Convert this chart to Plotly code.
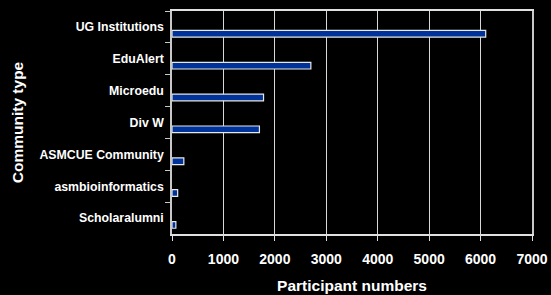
import plotly.graph_objects as go

categories = ["UG Institutions", "EduAlert", "Microedu", "Div W",
              "ASMCUE Community", "asmbioinformatics", "Scholaralumni"]
participants = [6100, 2700, 1780, 1700, 230, 110, 75]
x_ticks = [0, 1000, 2000, 3000, 4000, 5000, 6000, 7000]

FONT = "Liberation Sans, Arial, sans-serif"

fig = go.Figure()
fig.add_trace(go.Bar(
    y=categories, x=participants, orientation="h",
    width=0.21, offset=0.11,
    marker=dict(color="#003399", line=dict(color="#e8e8e8", width=1.2)),
    showlegend=False, hoverinfo="skip",
))

fig.update_layout(
    width=551, height=295,
    margin=dict(l=172, r=19, t=11, b=61),
    paper_bgcolor="black", plot_bgcolor="black",
    font=dict(family=FONT, color="white"),
)
fig.update_xaxes(
    range=[0, 7000], tickvals=x_ticks, ticktext=[str(v) for v in x_ticks],
    showgrid=True, gridcolor="#d8d8d8", gridwidth=1,
    showline=True, linecolor="#e0e0e0", linewidth=1.5, mirror=True,
    ticks="outside", ticklen=5, tickcolor="#e0e0e0", ticklabelstandoff=6,
    tickfont=dict(size=14, family=FONT, color="white", weight="bold"),
    title=dict(text="<b>Participant numbers</b>", font=dict(size=15.5, color="white"), standoff=15),
    zeroline=False, automargin=False,
)
fig.update_yaxes(
    type="category", autorange="reversed",
    showgrid=False,
    showline=True, linecolor="#c8c8c8", linewidth=1.5, mirror=True,
    ticks="outside", ticklen=5, tickcolor="#c8c8c8", tickson="boundaries",
    ticklabelstandoff=4,
    tickfont=dict(size=12.3, family=FONT, color="white", weight="bold"),
    title=dict(text="<b>Community type</b>", font=dict(size=15.5, color="white"), standoff=12),
    automargin=False,
)

fig.write_html("out.html", config={"displayModeBar": False},
               post_script="document.body.style.margin='0';document.body.style.background='black';")
